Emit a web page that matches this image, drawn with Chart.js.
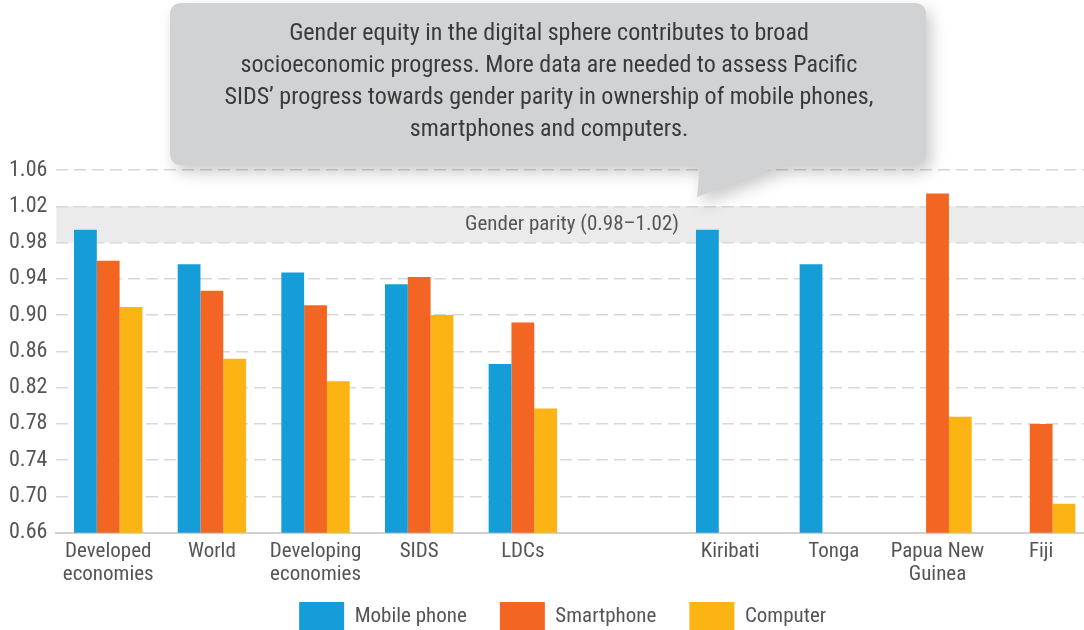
<!DOCTYPE html>
<html>
<head>
<meta charset="utf-8">
<script src="https://cdn.jsdelivr.net/npm/chart.js@4"></script>
<style>
  html, body { margin: 0; padding: 0; background: #fff; overflow: hidden; }
  #wrap { width: 1096px; height: 641px; }
</style>
</head>
<body>
<div id="wrap"><canvas id="chart"></canvas></div>
<script>
// categories (one blank slot separates the groups from the Pacific SIDS)
var categories = [['Developed', 'economies'], 'World', ['Developing', 'economies'], 'SIDS', 'LDCs', '',
  'Kiribati', 'Tonga', ['Papua New', 'Guinea'], 'Fiji'];
var mobilePhone = [0.994, 0.956, 0.947, 0.934, 0.846, null, 0.994, 0.956, null, null];
var smartphone  = [0.960, 0.927, 0.911, 0.942, 0.892, null, null, null, 1.034, 0.780];
var computer    = [0.909, 0.852, 0.827, 0.900, 0.797, null, null, null, 0.788, 0.692];
var yTicks = [0.66, 0.70, 0.74, 0.78, 0.82, 0.86, 0.90, 0.94, 0.98, 1.02, 1.06];
var parityBand = [0.98, 1.02];
var parityLabel = 'Gender parity (0.98\u20131.02)';
var calloutLines = [
  'Gender equity in the digital sphere contributes to broad',
  'socioeconomic progress. More data are needed to assess Pacific',
  'SIDS\u2019 progress towards gender parity in ownership of mobile phones,',
  'smartphones and computers.'
];

var FONT = '"Liberation Sans Narrow", "Roboto Condensed", Roboto, sans-serif';
Chart.defaults.font.family = FONT;
Chart.defaults.color = '#555';

var bandPlugin = {
  id: 'band',
  beforeDraw: function(chart) {
    var ctx = chart.ctx, a = chart.chartArea, y = chart.scales.y;
    var top = y.getPixelForValue(parityBand[1]), bot = y.getPixelForValue(parityBand[0]);
    ctx.save();
    ctx.fillStyle = '#ebebeb';
    ctx.fillRect(a.left, top, a.right - a.left, bot - top);
    ctx.fillStyle = '#555';
    ctx.font = '21px ' + FONT;
    ctx.textAlign = 'center';
    ctx.textBaseline = 'middle';
    ctx.fillText(parityLabel, 572, (top + bot) / 2);
    ctx.restore();
  }
};

var calloutPlugin = {
  id: 'callout',
  afterDraw: function(chart) {
    var ctx = chart.ctx;
    var x0 = 170, y0 = 3, x1 = 926, y1 = 165, r = 12;
    ctx.save();
    ctx.shadowColor = 'rgba(0,0,0,0.22)';
    ctx.shadowBlur = 16;
    ctx.shadowOffsetX = 5;
    ctx.shadowOffsetY = 7;
    ctx.fillStyle = '#d1d2d4';
    ctx.beginPath();
    ctx.moveTo(x0 + r, y0);
    ctx.lineTo(x1 - r, y0);
    ctx.quadraticCurveTo(x1, y0, x1, y0 + r);
    ctx.lineTo(x1, y1 - r);
    ctx.quadraticCurveTo(x1, y1, x1 - r, y1);
    ctx.lineTo(782, y1);
    ctx.lineTo(697, 197);
    ctx.lineTo(700, y1);
    ctx.lineTo(x0 + r, y1);
    ctx.quadraticCurveTo(x0, y1, x0, y1 - r);
    ctx.lineTo(x0, y0 + r);
    ctx.quadraticCurveTo(x0, y0, x0 + r, y0);
    ctx.closePath();
    ctx.fill();
    ctx.restore();
    ctx.save();
    ctx.fillStyle = '#3a3a3a';
    ctx.font = '24px ' + FONT;
    ctx.textAlign = 'center';
    ctx.textBaseline = 'middle';
    calloutLines.forEach(function(line, i) {
      ctx.fillText(line, 549, 34 + i * 32);
    });
    ctx.restore();
  }
};

new Chart(document.getElementById('chart'), {
  type: 'bar',
  data: {
    labels: categories,
    datasets: [
      { label: 'Mobile phone', data: mobilePhone, backgroundColor: '#159dd8' },
      { label: 'Smartphone', data: smartphone, backgroundColor: '#f26522' },
      { label: 'Computer', data: computer, backgroundColor: '#fcb415' }
    ]
  },
  options: {
    responsive: true,
    maintainAspectRatio: false,
    animation: false,
    layout: { padding: { top: 170, left: 0, right: 3, bottom: 0 } },
    datasets: { bar: { categoryPercentage: 0.66, barPercentage: 1.0, borderWidth: 0 } },
    plugins: {
      tooltip: { enabled: false },
      legend: {
        position: 'bottom',
        fullSize: false,
        labels: {
          boxWidth: 45,
          boxHeight: 29,
          padding: 9,
          color: '#555',
          font: { size: 21, family: FONT },
          generateLabels: function(chart) {
            var items = Chart.defaults.plugins.legend.labels.generateLabels(chart);
            items.forEach(function(it) { it.text = it.text + '     '; });
            return items;
          }
        }
      }
    },
    scales: {
      x: {
        grid: { display: false, drawTicks: false },
        border: { display: true, color: '#d0d0d0', width: 2 },
        ticks: {
          color: '#555',
          padding: 7,
          maxRotation: 0,
          autoSkip: false,
          font: { size: 21, family: FONT, lineHeight: 1.1 }
        }
      },
      y: {
        min: yTicks[0],
        max: yTicks[yTicks.length - 1],
        afterBuildTicks: function(axis) {
          axis.ticks = yTicks.map(function(v) { return { value: v }; });
        },
        grid: { color: '#d8d8d8', lineWidth: 1.5, drawTicks: false },
        border: { display: false, dash: [12, 6] },
        ticks: {
          color: '#555',
          padding: 9,
          font: { size: 22, family: FONT },
          callback: function(v) { return Number(v).toFixed(2); }
        }
      }
    }
  },
  plugins: [bandPlugin, calloutPlugin]
});
</script>
</body>
</html>
